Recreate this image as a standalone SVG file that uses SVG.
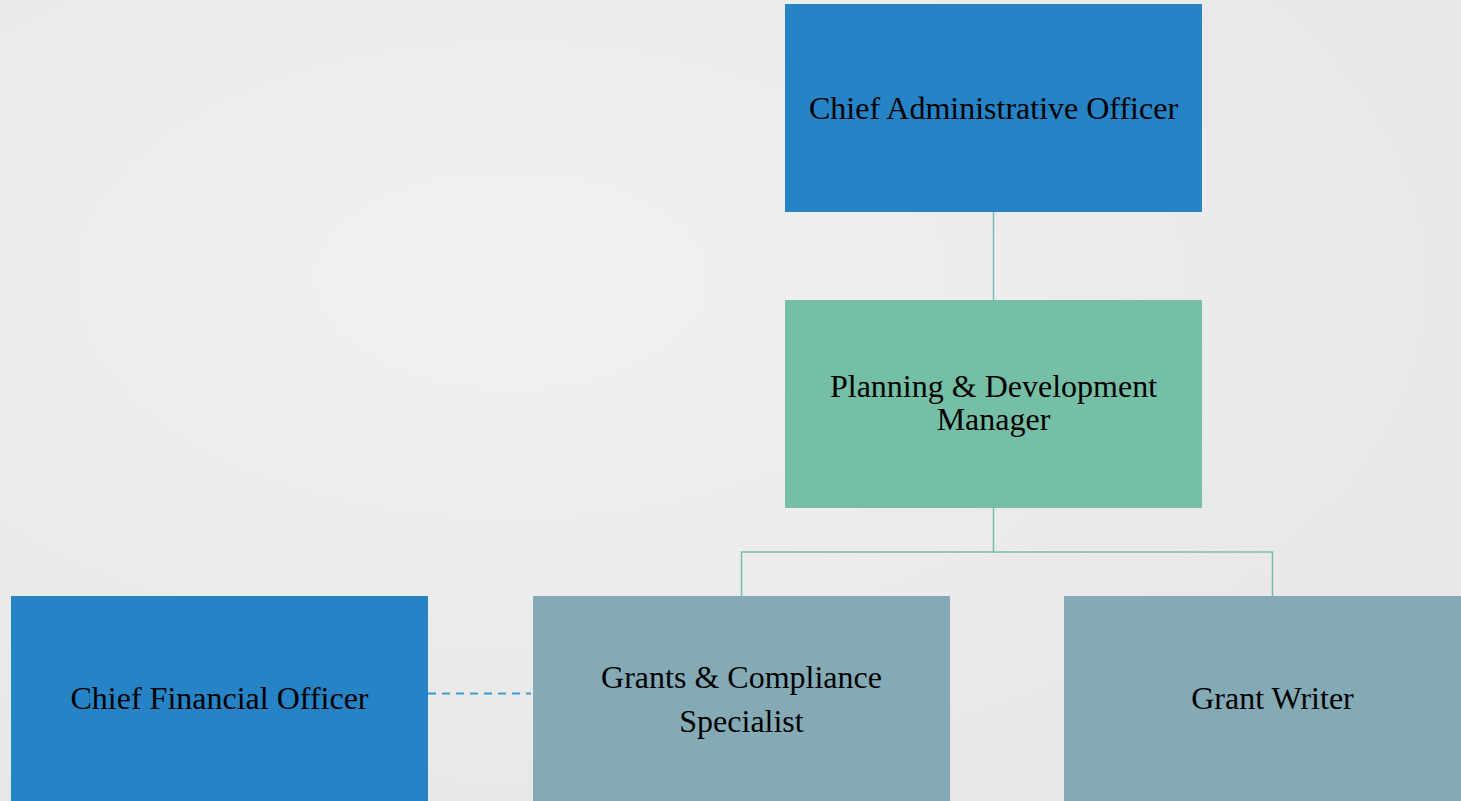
<svg xmlns="http://www.w3.org/2000/svg" width="1461" height="801" viewBox="0 0 1461 801">
<defs>
<style>
.lbl{font-family:"Liberation Serif","Times New Roman",serif;font-size:32px;fill:#000;text-anchor:middle}
.blue{fill:#2683c6}
.green{fill:#76bfa7}
.grey{fill:#84abb5}
.solid{stroke:#76bfa7;stroke-width:1.5;fill:none}
.dash{stroke:#3a9ad0;stroke-width:2;stroke-dasharray:8 6;fill:none}
</style>
<radialGradient id="bg" cx="0.35" cy="0.35" r="0.8">
<stop offset="0" stop-color="#f1f1f1"/>
<stop offset="1" stop-color="#e6e6e6"/>
</radialGradient>
</defs>
<rect width="1461" height="801" fill="url(#bg)"/>
<g id="connectors">
<line class="solid" x1="993.5" y1="212" x2="993.5" y2="300" style="stroke:#7fb8b8"/>
<polyline class="solid" points="993.5,508 993.5,552 741.5,552 741.5,596"/>
<polyline class="solid" points="993.5,552 1272.5,552 1272.5,596"/>
<line class="dash" x1="428" y1="693.5" x2="531" y2="693.5"/>
</g>
<g id="cao">
<rect class="blue" x="785" y="4" width="417" height="208"/>
<text class="lbl" x="993.5" y="119">Chief Administrative Officer</text>
</g>
<g id="pdm">
<rect class="green" x="785" y="300" width="417" height="208"/>
<text class="lbl" x="993.5" y="397">Planning &amp; Development</text>
<text class="lbl" x="993.5" y="430">Manager</text>
</g>
<g id="cfo">
<rect class="blue" x="11" y="596" width="417" height="208"/>
<text class="lbl" x="219.5" y="709">Chief Financial Officer</text>
</g>
<g id="gcs">
<rect class="grey" x="533" y="596" width="417" height="208"/>
<text class="lbl" x="741.5" y="688">Grants &amp; Compliance</text>
<text class="lbl" x="741.5" y="732">Specialist</text>
</g>
<g id="gw">
<rect class="grey" x="1064" y="596" width="417" height="208"/>
<text class="lbl" x="1272.5" y="709">Grant Writer</text>
</g>
</svg>
